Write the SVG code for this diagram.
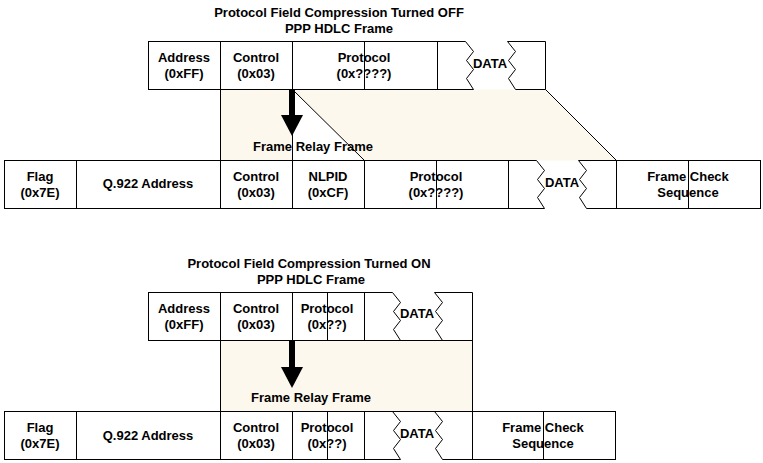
<svg xmlns="http://www.w3.org/2000/svg" width="763" height="463" viewBox="0 0 763 463">
<style>
text{font-family:"Liberation Sans",Arial,sans-serif;font-size:13px;font-weight:bold;fill:#000;text-anchor:middle}
.cell{fill:#fff;stroke:#000;stroke-width:1}
.ln{fill:none;stroke:#000;stroke-width:1}
.shade{fill:#fdf8ee}
</style>
<rect x="0" y="0" width="763" height="463" fill="#fff"/>

<!-- ===== OFF section ===== -->
<g id="title-off">
<text x="339" y="17">Protocol Field Compression Turned OFF</text>
<text x="339" y="33">PPP HDLC Frame</text>
</g>

<g id="connectors">
<polygon class="shade" points="220.5,89.5 545.5,89.5 616.5,160.5 220.5,160.5"/>
<polygon fill="#fff" points="292.5,89.5 364.5,160.5 292.5,160.5"/>
<line class="ln" x1="220.5" y1="89.5" x2="220.5" y2="160.5"/>
<line class="ln" x1="545.5" y1="89.5" x2="616.5" y2="160.5"/>
<line class="ln" x1="292.5" y1="89.5" x2="364.5" y2="160.5"/>
<line class="ln" x1="292.5" y1="130" x2="292.5" y2="160.5"/>
<rect x="289" y="89" width="6" height="26" fill="#000"/>
<polygon points="281,115 303,115 292,136" fill="#000"/>

<rect class="shade" x="220.5" y="340.5" width="252" height="71" stroke="#000" stroke-width="1"/>
<rect x="289" y="340" width="6" height="27" fill="#000"/>
<polygon points="281,367 303,367 292,388" fill="#000"/>
<text x="313" y="151">Frame Relay Frame</text>
<text x="311" y="402">Frame Relay Frame</text>
</g>

<g id="off-ppp-address"><rect class="cell" x="148.5" y="41.5" width="72" height="48"/><text x="184" y="62">Address</text><text x="184" y="78">(0xFF)</text></g>
<g id="off-ppp-control"><rect class="cell" x="220.5" y="41.5" width="72" height="48"/><text x="256" y="62">Control</text><text x="256" y="78">(0x03)</text></g>
<g id="off-ppp-protocol"><rect class="cell" x="292.5" y="41.5" width="145" height="48"/><line class="ln" x1="364.5" y1="41.5" x2="364.5" y2="89.5"/><text x="364" y="62">Protocol</text><text x="364" y="78">(0x????)</text></g>
<g id="off-ppp-data">
<path class="ln" d="M437.5,41.5 H465.5 L473.5,51.5 L466.5,60.5 L473.5,69.5 L466.5,78.5 L473.5,89.5 H437.5 Z"/>
<path class="ln" d="M545.5,41.5 H507.5 L515.5,51.5 L508.5,60.5 L515.5,69.5 L508.5,78.5 L515.5,89.5 H545.5 Z"/>
<text x="490" y="68">DATA</text></g>

<g id="off-fr-flag"><rect class="cell" x="4.5" y="160.5" width="72" height="48"/><text x="40" y="181">Flag</text><text x="40" y="197">(0x7E)</text></g>
<g id="off-fr-address"><rect class="cell" x="76.5" y="160.5" width="144" height="48"/><text x="148" y="188">Q.922 Address</text></g>
<g id="off-fr-control"><rect class="cell" x="220.5" y="160.5" width="72" height="48"/><text x="256" y="181">Control</text><text x="256" y="197">(0x03)</text></g>
<g id="off-fr-nlpid"><rect class="cell" x="292.5" y="160.5" width="72" height="48"/><text x="328" y="181">NLPID</text><text x="328" y="197">(0xCF)</text></g>
<g id="off-fr-protocol"><rect class="cell" x="364.5" y="160.5" width="144" height="48"/><line class="ln" x1="436.5" y1="160.5" x2="436.5" y2="208.5"/><text x="436" y="181">Protocol</text><text x="436" y="197">(0x????)</text></g>
<g id="off-fr-data">
<path class="ln" d="M508.5,160.5 H536.5 L544.5,170.5 L537.5,179.5 L544.5,188.5 L537.5,197.5 L544.5,208.5 H508.5 Z"/>
<path class="ln" d="M616.5,160.5 H578.5 L586.5,170.5 L579.5,179.5 L586.5,188.5 L579.5,197.5 L586.5,208.5 H616.5 Z"/>
<text x="562" y="187">DATA</text></g>
<g id="off-fr-fcs"><rect class="cell" x="616.5" y="160.5" width="144" height="48"/><line class="ln" x1="688.5" y1="160.5" x2="688.5" y2="208.5"/><text x="688" y="181">Frame Check</text><text x="688" y="197">Sequence</text></g>

<!-- ===== ON section ===== -->
<g id="title-on">
<text x="309" y="268">Protocol Field Compression Turned ON</text>
<text x="311" y="284">PPP HDLC Frame</text>
</g>

<g id="on-ppp-address"><rect class="cell" x="148.5" y="292.5" width="72" height="48"/><text x="184" y="313">Address</text><text x="184" y="329">(0xFF)</text></g>
<g id="on-ppp-control"><rect class="cell" x="220.5" y="292.5" width="72" height="48"/><text x="256" y="313">Control</text><text x="256" y="329">(0x03)</text></g>
<g id="on-ppp-protocol"><rect class="cell" x="292.5" y="292.5" width="72" height="48"/><line class="ln" x1="327.5" y1="292.5" x2="327.5" y2="340.5"/><text x="327" y="313">Protocol</text><text x="327" y="329">(0x??)</text></g>
<g id="on-ppp-data">
<path class="ln" d="M364.5,292.5 H392.5 L400.5,302.5 L393.5,311.5 L400.5,320.5 L393.5,329.5 L400.5,340.5 H364.5 Z"/>
<path class="ln" d="M472.5,292.5 H434.5 L442.5,302.5 L435.5,311.5 L442.5,320.5 L435.5,329.5 L442.5,340.5 H472.5 Z"/>
<text x="417" y="318">DATA</text></g>

<g id="on-fr-flag"><rect class="cell" x="4.5" y="411.5" width="72" height="48"/><text x="40" y="432">Flag</text><text x="40" y="448">(0x7E)</text></g>
<g id="on-fr-address"><rect class="cell" x="76.5" y="411.5" width="144" height="48"/><text x="148" y="440">Q.922 Address</text></g>
<g id="on-fr-control"><rect class="cell" x="220.5" y="411.5" width="72" height="48"/><text x="256" y="432">Control</text><text x="256" y="448">(0x03)</text></g>
<g id="on-fr-protocol"><rect class="cell" x="292.5" y="411.5" width="72" height="48"/><line class="ln" x1="327.5" y1="411.5" x2="327.5" y2="459.5"/><text x="327" y="432">Protocol</text><text x="327" y="448">(0x??)</text></g>
<g id="on-fr-data">
<path class="ln" d="M364.5,411.5 H392.5 L400.5,421.5 L393.5,430.5 L400.5,439.5 L393.5,448.5 L400.5,459.5 H364.5 Z"/>
<path class="ln" d="M472.5,411.5 H434.5 L442.5,421.5 L435.5,430.5 L442.5,439.5 L435.5,448.5 L442.5,459.5 H472.5 Z"/>
<text x="417" y="438">DATA</text></g>
<g id="on-fr-fcs"><rect class="cell" x="472.5" y="411.5" width="143" height="48"/><line class="ln" x1="543.5" y1="411.5" x2="543.5" y2="459.5"/><text x="543" y="432">Frame Check</text><text x="543" y="448">Sequence</text></g>
</svg>
